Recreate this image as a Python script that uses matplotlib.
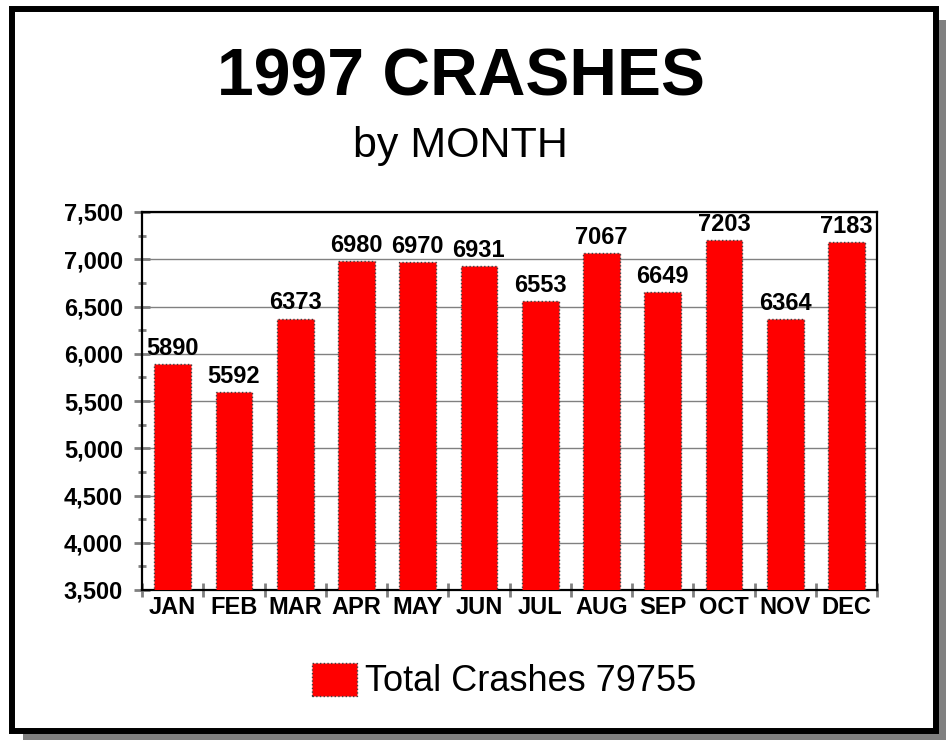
import matplotlib
matplotlib.use("Agg")
import matplotlib.pyplot as plt
from matplotlib.patches import Rectangle
from matplotlib.ticker import FuncFormatter, MultipleLocator
import numpy as np

months = ["JAN", "FEB", "MAR", "APR", "MAY", "JUN",
          "JUL", "AUG", "SEP", "OCT", "NOV", "DEC"]
crashes = [5890, 5592, 6373, 6980, 6970, 6931, 6553, 7067, 6649, 7203, 6364, 7183]
series_name = "Total Crashes 79755"
title = "1997 CRASHES"
subtitle = "by MONTH"

plt.rcParams['font.family'] = ['Liberation Sans', 'DejaVu Sans']

W, H = 946, 740
fig = plt.figure(figsize=(W / 100, H / 100), dpi=100)

# frame with drop shadow (pixel coords, top-left origin)
def fx(px):
    return px / W

def fy(py):
    return 1 - py / H

fig.patches.append(Rectangle((fx(23), 0), fx(946 - 23), (740 - 20) / H,
                             transform=fig.transFigure, facecolor="#808080",
                             edgecolor="none", zorder=-10))
fig.patches.append(Rectangle((fx(12), fy(731)), fx(936 - 12), (731 - 9) / H,
                             transform=fig.transFigure, facecolor="white",
                             edgecolor="black", linewidth=4.3, zorder=-9))

fig.text(fx(461), fy(95), title, ha="center", va="baseline",
         fontsize=47.5, fontweight="bold")
fig.text(fx(460), fy(157), subtitle, ha="center", va="baseline", fontsize=31)

ax = fig.add_axes([fx(142), fy(590), fx(877 - 142), (590 - 212) / H])
x = np.arange(len(months))
bars = ax.bar(x, crashes, width=0.6, color="#ff0000", edgecolor="#404040",
              linestyle=":", linewidth=1, label=series_name, zorder=3)
ax.bar_label(bars, padding=3, fontsize=17, fontweight="bold")

ax.set_ylim(3500, 7500)
ax.set_xlim(-0.5, len(months) - 0.5)
ax.yaxis.set_major_locator(MultipleLocator(500))
ax.yaxis.set_minor_locator(MultipleLocator(250))
ax.yaxis.set_major_formatter(FuncFormatter(lambda v, p: f"{int(v):,}"))
ax.grid(axis="y", color="#808080", linewidth=1, zorder=0)

ax.set_xticks(np.arange(-0.5, len(months)), labels=[""] * (len(months) + 1))
ax.set_xticks(x, labels=months, minor=True)
ax.tick_params(axis="x", which="major", direction="inout", length=10,
               width=2, color="#808080")
ax.tick_params(axis="x", which="minor", length=0, pad=4, labelsize=17)
ax.tick_params(axis="y", which="major", direction="inout", length=11.5,
               width=2, color="#808080", labelsize=17, pad=8)
ax.tick_params(axis="y", which="minor", direction="inout", length=6,
               width=2, color="#808080")
for lab in ax.get_xticklabels(minor=True) + ax.get_yticklabels():
    lab.set_fontweight("bold")

for s in ax.spines.values():
    s.set_color("black")
    s.set_linewidth(1.6)

fig.legend(handles=[bars], labels=[series_name], loc="center",
           bbox_to_anchor=(fx(504), fy(681)), frameon=False, fontsize=26,
           handlelength=1.25, handleheight=1.03, handletextpad=0.22)

fig.savefig("out.png", dpi=100)
